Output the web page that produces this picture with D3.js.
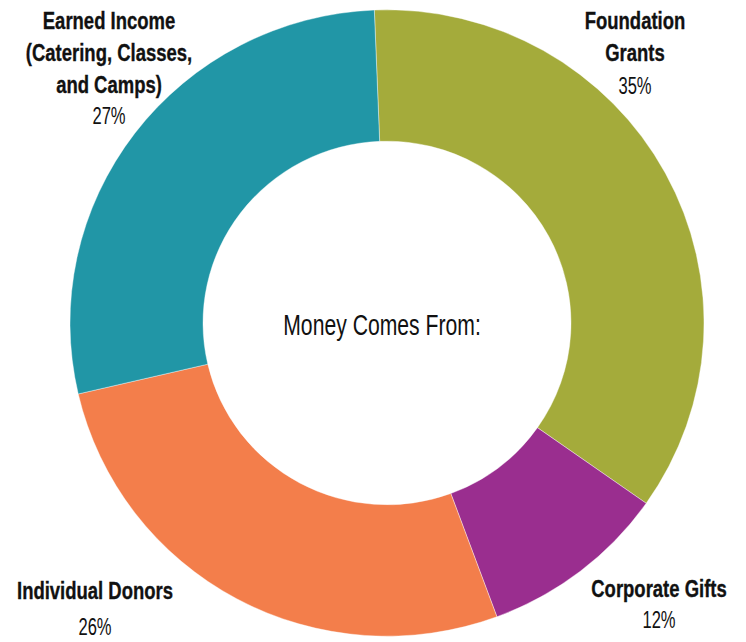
<!DOCTYPE html>
<html>
<head>
<meta charset="utf-8">
<script src="https://cdn.jsdelivr.net/npm/d3@7"></script>
<style>
  html, body { margin: 0; padding: 0; background: #fff; }
  svg { display: block; }
  text { font-family: "Liberation Sans", Arial, sans-serif; fill: #111; }
</style>
</head>
<body>
<svg id="chart" width="746" height="642"></svg>
<script>
// ---- data ----
const categories = ["Foundation Grants", "Corporate Gifts", "Individual Donors", "Earned Income (Catering, Classes, and Camps)"];
const arcValues = [35.4, 9.6, 27.0, 28.0];           // slice sizes as drawn
const percentLabels = ["35%", "12%", "26%", "27%"];  // printed labels
const labelLines = [
  ["Foundation", "Grants"],
  ["Corporate Gifts"],
  ["Individual Donors"],
  ["Earned Income", "(Catering, Classes,", "and Camps)"]
];
const colors = ["#a4ab3b", "#9a2e8f", "#f37e4b", "#2196a6"];
const centerTitle = "Money Comes From:";

// ---- layout ----
const cx = 387, cy = 323, rOuter = 317, rInner = 184, yScale = 0.988;
const startAngle = -0.04;
const labelLayout = [
  { x: 635, y: 29, pctGap: 33 },
  { x: 659, y: 597, pctGap: 31 },
  { x: 95, y: 599, pctGap: 36 },
  { x: 109, y: 29, pctGap: 31 }
];
const lineH = 32;
const boldSX = 0.77, regSX = 0.73, pctSX = 0.72;   // condensed look

const svg = d3.select("#chart");
const data = categories.map((c, i) => ({ cat: c, value: arcValues[i], pct: percentLabels[i], lines: labelLines[i], color: colors[i], lay: labelLayout[i] }));

const pie = d3.pie().sort(null).value(d => d.value)
  .startAngle(startAngle).endAngle(startAngle + 2 * Math.PI);
const arc = d3.arc().innerRadius(rInner).outerRadius(rOuter);

const g = svg.append("g").attr("transform", `translate(${cx},${cy}) scale(1,${yScale})`);
g.selectAll("path").data(pie(data)).join("path")
  .attr("d", arc)
  .attr("fill", d => d.data.color)
  .attr("stroke", "#fff")
  .attr("stroke-width", 0.4);

function condensedText(parent, x, y, str, size, weight, sx) {
  return parent.append("text")
    .attr("transform", `translate(${x},${y}) scale(${sx},1)`)
    .attr("text-anchor", "middle")
    .attr("font-size", size)
    .attr("font-weight", weight)
    .text(str);
}

condensedText(svg, cx - 5, 335, centerTitle, 29, "normal", regSX);

const lg = svg.selectAll("g.lbl").data(data).join("g").attr("class", "lbl");
lg.each(function(d) {
  const sel = d3.select(this);
  d.lines.forEach((t, k) => {
    condensedText(sel, d.lay.x, d.lay.y + k * lineH, t, 24, "bold", boldSX)
      .attr("stroke", "#111").attr("stroke-width", 0.35);
  });
  condensedText(sel, d.lay.x, d.lay.y + (d.lines.length - 1) * lineH + d.lay.pctGap, d.pct, 23, "normal", pctSX);
});
</script>
</body>
</html>
